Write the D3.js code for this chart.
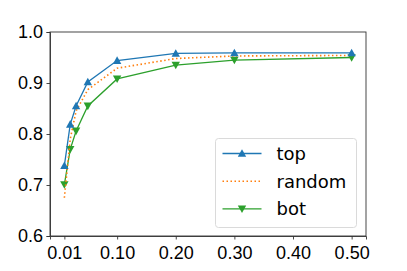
<!DOCTYPE html>
<html>
<head>
<meta charset="utf-8">
<script src="https://cdn.jsdelivr.net/npm/d3@7"></script>
<style>
  body { margin: 0; background: #fff; }
  svg { display: block; font-family: "DejaVu Sans", sans-serif; }
  .axis text { font-size: 18px; fill: #000; }
  .axis path, .axis line { stroke: #333; stroke-width: 0.9; }
  .line { fill: none; }
  .legend text { font-size: 18px; fill: #000; }
</style>
</head>
<body>
<div class="content"></div>
<script>
// ratios on the x axis
var ratios = [0.01, 0.02, 0.03, 0.05, 0.10, 0.20, 0.30, 0.50];

var topVals    = [0.738, 0.819, 0.855, 0.902, 0.944, 0.958, 0.959, 0.959];
var randomVals = [0.675, 0.790, 0.845, 0.887, 0.929, 0.948, 0.953, 0.954];
var botVals    = [0.701, 0.770, 0.806, 0.855, 0.908, 0.935, 0.945, 0.950];

var xTicks = [0.01, 0.10, 0.20, 0.30, 0.40, 0.50];
var yTicks = [0.6, 0.7, 0.8, 0.9, 1.0];

var seriesNames = ["top", "random", "bot"];

var chartParams = {
    "parentDiv": "div.content",
    "fullWidth": 407,
    "fullHeight": 271,
    "margin": {'top': 32, 'right': 41, 'bottom': 35, 'left': 50},
    "color": ["#1f77b4", "#ff7f0e", "#2ca02c"]
};

var series = [
    {name: seriesNames[0], values: topVals, color: chartParams.color[0], marker: "up", dash: null},
    {name: seriesNames[1], values: randomVals, color: chartParams.color[1], marker: null, dash: "1.5,2.5"},
    {name: seriesNames[2], values: botVals, color: chartParams.color[2], marker: "down", dash: null}
];

var margin = chartParams.margin;
var width = chartParams.fullWidth - margin.left - margin.right;
var height = chartParams.fullHeight - margin.top - margin.bottom;

var svg = d3.select(chartParams.parentDiv).append("svg")
    .attr("width", chartParams.fullWidth)
    .attr("height", chartParams.fullHeight)
  .append("g")
    .attr("transform", "translate(" + margin.left + "," + margin.top + ")");

var x = d3.scaleLinear().domain([-0.0145, 0.5245]).range([0, width]);
var y = d3.scaleLinear().domain([0.6, 1.0]).range([height, 0]);

//x-axis
svg.append("g")
    .attr("class", "axis x-axis")
    .attr("transform", "translate(0," + height + ")")
    .call(d3.axisBottom(x).tickValues(xTicks).tickFormat(d3.format(".2f")).tickSizeOuter(0).tickSize(3.5).tickPadding(7));
//y-axis
svg.append("g")
    .attr("class", "axis y-axis")
    .call(d3.axisLeft(y).tickValues(yTicks).tickFormat(d3.format(".1f")).tickSizeOuter(0).tickSize(3.5).tickPadding(3.5));

//frame
svg.append("rect")
    .attr("width", width)
    .attr("height", height)
    .attr("fill", "none")
    .attr("stroke", "#333")
    .attr("stroke-width", 0.9);

var valueLine = d3.line()
    .x(function(d, i){return x(ratios[i]);})
    .y(function(d){return y(d);});

function triangle(dir, s) {
    return dir === "up"
        ? "M0," + (-s) + "L" + s + "," + (s * 0.8) + "L" + (-s) + "," + (s * 0.8) + "Z"
        : "M0," + s + "L" + s + "," + (-s * 0.8) + "L" + (-s) + "," + (-s * 0.8) + "Z";
}

// draw bot first so top sits above
[series[2], series[1], series[0]].forEach(function(s){
    svg.append("path")
        .datum(s.values)
        .attr("class", "line")
        .attr("d", valueLine)
        .attr("stroke", s.color)
        .attr("stroke-width", s.dash ? 1.6 : 1.3)
        .attr("stroke-dasharray", s.dash);
    if (s.marker) {
        svg.selectAll(".m-" + s.name)
            .data(s.values)
          .enter().append("path")
            .attr("class", "m-" + s.name)
            .attr("transform", function(d, i){return "translate(" + x(ratios[i]) + "," + y(d) + ")";})
            .attr("d", triangle(s.marker, 4.2))
            .attr("fill", s.color);
    }
});

//legend
var legend = svg.append("g")
    .attr("class", "legend")
    .attr("transform", "translate(" + (width - 150.5) + "," + (height - 97.5) + ")");

legend.append("rect")
    .attr("width", 141)
    .attr("height", 89)
    .attr("rx", 3)
    .attr("fill", "#fff")
    .attr("fill-opacity", 0.8)
    .attr("stroke", "#d6d6d6")
    .attr("stroke-width", 0.9);

series.forEach(function(s, i){
    var row = legend.append("g")
        .attr("transform", "translate(0," + (15 + i * 27.7) + ")");
    row.append("line")
        .attr("x1", 7).attr("x2", 46)
        .attr("stroke", s.color)
        .attr("stroke-width", s.dash ? 1.6 : 1.3)
        .attr("stroke-dasharray", s.dash);
    if (s.marker) {
        row.append("path")
            .attr("transform", "translate(26.5,0)")
            .attr("d", triangle(s.marker, 4.2))
            .attr("fill", s.color);
    }
    row.append("text")
        .attr("x", 61)
        .attr("dy", "0.35em")
        .text(s.name);
});
</script>
</body>
</html>
